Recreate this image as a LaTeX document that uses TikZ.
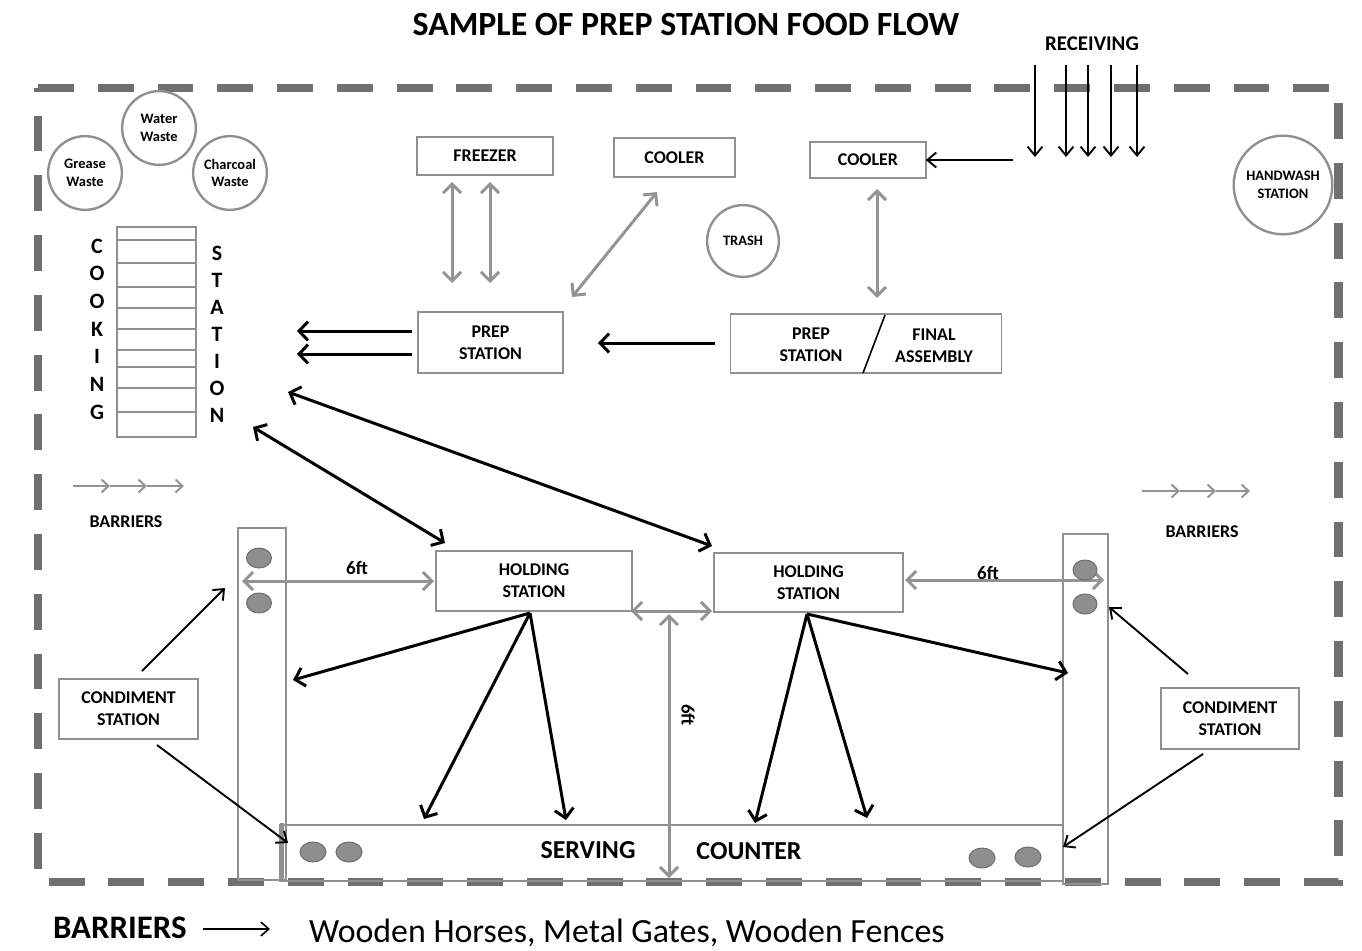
\documentclass[tikz,border=0pt]{standalone}
\usepackage{fontspec}
\setmainfont{Carlito}
\usetikzlibrary{arrows.meta}
\definecolor{boxgray}{HTML}{909090}
\definecolor{arrgray}{HTML}{939393}
\definecolor{bordergray}{HTML}{707070}
\definecolor{ovalgray}{HTML}{8E8E8E}
\definecolor{ovaledge}{HTML}{6E6E6E}
\begin{document}
\begin{tikzpicture}[x=1bp,y=-1bp,
  every node/.style={inner sep=0pt, outer sep=0pt},
  lbl/.style={font=\bfseries\fontsize{18}{22}\selectfont, align=center},
  box/.style={draw=boxgray, line width=1.9pt, fill=white, lbl},
  wcirc/.style={circle, draw=boxgray, line width=2.4pt, minimum size=74pt, font=\bfseries\fontsize{14.5}{18}\selectfont, align=center},
  garr/.style={draw=arrgray, line width=3pt, {Straight Barb[length=9pt,width=18pt]}-{Straight Barb[length=9pt,width=18pt]}},
  barr/.style={draw=black, line width=3pt, -{Straight Barb[length=9pt,width=19pt]}},
  bdarr/.style={draw=black, line width=3pt, {Straight Barb[length=9pt,width=19pt]}-{Straight Barb[length=9pt,width=19pt]}},
  tarr/.style={draw=black, line width=1.9pt, -{Straight Barb[length=9pt,width=15pt]}},
  chev/.style={draw=arrgray, line width=2pt, -{Straight Barb[length=7pt,width=13pt]}},
  wall/.style={draw=boxgray, line width=2.2pt},
  oval/.style={fill=ovalgray, draw=ovaledge, line width=1pt},
  cookl/.style={font=\bfseries\fontsize{22}{22}\selectfont}
]
\useasboundingbox (0,0) rectangle (1362,950);

% title
\node[font=\bfseries\fontsize{34}{36}\selectfont] (title) at (686,25) {SAMPLE OF PREP STATION FOOD FLOW};

% dashed border
\draw[bordergray, line width=9pt, dash pattern=on 36pt off 24pt] (38,88) -- (1338,88) -- (1338,882) -- (38,882) -- cycle;

% waste circles
\node[wcirc] (water) at (159,128) {Water\\Waste};
\node[wcirc] (grease) at (85,173) {Grease\\Waste};
\node[wcirc] (charcoal) at (230,173) {Charcoal\\Waste};

% cooking station
\draw[wall] (117,227) rectangle (196,437);
\foreach \yy in {240,263,287,308,329,350,367,388,412}
  \draw[boxgray, line width=1.2pt] (117,\yy) -- (196,\yy);
\foreach \ch [count=\i from 0] in {C,O,O,K,I,N,G}
  \node[cookl] (cl\i) at (97,246+27.7*\i) {\ch};
\foreach \ch [count=\i from 0] in {S,T,A,T,I,O,N}
  \node[cookl] (cr\i) at (217,253+27*\i) {\ch};

% top boxes
\node[box, minimum width=136pt, minimum height=38pt] (freezer) at (485,156) {FREEZER};
\node[box, minimum width=121pt, minimum height=39pt] (cooler1) at (674.5,157.5) {COOLER};
\node[box, minimum width=116pt, minimum height=36pt] (cooler2) at (868,160) {COOLER};
\node[wcirc, minimum size=72pt] (trash) at (743,241) {TRASH};
\node[wcirc, minimum size=99pt] (hand) at (1283,185) {HANDWASH\\STATION};

% prep stations
\node[box, minimum width=145pt, minimum height=61pt] (prepl) at (490.5,342.5) {PREP\\STATION};
\node[box, minimum width=272pt, minimum height=60pt] (pf) at (866,343.5) {};
\coordinate (slA) at (885,315);
\coordinate (slB) at (863,373);
\draw[black, line width=1.6pt] (slA) -- (slB);
\node[lbl] (pftxt1) at (811,345) {PREP\\STATION};
\node[lbl] (pftxt2) at (934,346) {FINAL\\ASSEMBLY};

% receiving
\node[font=\bfseries\fontsize{21}{22}\selectfont] (recv) at (1092,44) {RECEIVING};
\foreach \xx [count=\i] in {1035,1066,1088,1111,1137}{
  \coordinate (rt\i) at (\xx,65);
  \coordinate (rb\i) at (\xx,157);
  \draw[tarr] (rt\i) -- (rb\i);
}
\coordinate (rc) at (1013,160);
\draw[tarr] (rc) -- (cooler2.east);

% gray arrows top
\coordinate (f1a) at (452,182); \coordinate (f1b) at (452,283);
\coordinate (f2a) at (490,182); \coordinate (f2b) at (490,283);
\draw[garr] (f1a) -- (f1b);
\draw[garr] (f2a) -- (f2b);
\coordinate (c1a) at (657,192); \coordinate (c1b) at (572,297);
\draw[garr] (c1a) -- (c1b);
\coordinate (c2a) at (877,189); \coordinate (c2b) at (877,298);
\draw[garr] (c2a) -- (c2b);

% black arrows prep
\coordinate (p1a) at (412,331); \coordinate (p1b) at (297,331);
\coordinate (p2a) at (412,354); \coordinate (p2b) at (297,354);
\draw[barr] (p1a) -- (p1b);
\draw[barr] (p2a) -- (p2b);
\coordinate (pfa) at (715,343); \coordinate (pfb) at (598,343);
\draw[barr] (pfa) -- (pfb);

% holding stations
\node[box, minimum width=196pt, minimum height=60pt] (holdl) at (534,581) {HOLDING\\STATION};
\node[box, minimum width=189pt, minimum height=59pt] (holdr) at (808.5,582.5) {HOLDING\\STATION};

% cooking to holding
\coordinate (ck1) at (288,392); \coordinate (hr1) at (712,546);
\coordinate (ck2) at (253,427); \coordinate (hl1) at (445,543);
\draw[bdarr] (ck1) -- (hr1);
\draw[bdarr] (ck2) -- (hl1);

% barriers legend arrows
\coordinate (bl0) at (73,486); \coordinate (bl1) at (110,486);
\coordinate (bl2) at (147,486); \coordinate (bl3) at (184,486);
\draw[chev] (bl0) -- (bl1);
\draw[chev] (bl1) -- (bl2);
\draw[chev] (bl2) -- (bl3);
\node[font=\bfseries\fontsize{18}{20}\selectfont] (barl) at (126,522) {BARRIERS};
\coordinate (br0) at (1142,491); \coordinate (br1) at (1180,491);
\coordinate (br2) at (1216,491); \coordinate (br3) at (1250,491);
\draw[chev] (br0) -- (br1);
\draw[chev] (br1) -- (br2);
\draw[chev] (br2) -- (br3);
\node[font=\bfseries\fontsize{18}{20}\selectfont] (barr) at (1202,532) {BARRIERS};

% barrier rectangles and counter
\draw[wall] (238,528) rectangle (286,880);
\draw[wall] (1063,534) rectangle (1108,884);
\draw[wall] (280,825) rectangle (1063,881);
\draw[boxgray, line width=4pt] (282,823) -- (282,880);
\node[font=\bfseries\fontsize{26}{28}\selectfont] (serv) at (588,850) {SERVING};
\node[font=\bfseries\fontsize{26}{28}\selectfont] (count) at (749,851) {COUNTER};

% 6ft dimension arrows
\coordinate (d1a) at (242,581); \coordinate (d1b) at (434,581);
\draw[garr] (d1a) -- (d1b);
\node[font=\bfseries\fontsize{19}{20}\selectfont] (six1) at (357,568) {6ft};
\coordinate (d2a) at (905,580); \coordinate (d2b) at (1104,580);
\draw[garr] (d2a) -- (d2b);
\node[font=\bfseries\fontsize{19}{20}\selectfont] (six2) at (988,573) {6ft};
\coordinate (d3a) at (631,611); \coordinate (d3b) at (712,611);
\draw[garr] (d3a) -- (d3b);
\coordinate (d4a) at (669,614); \coordinate (d4b) at (669,878);
\draw[garr] (d4a) -- (d4b);
\node[font=\bfseries\fontsize{19}{20}\selectfont, rotate=-90] (six3) at (688,715) {6ft};

% ovals
\draw[oval] (259,558) ellipse [x radius=12.5, y radius=10];
\draw[oval] (259,603) ellipse [x radius=12.5, y radius=10];
\draw[oval] (1085,570) ellipse [x radius=12, y radius=10];
\draw[oval] (1085,604) ellipse [x radius=12, y radius=10];
\draw[oval] (313,852) ellipse [x radius=13, y radius=10];
\draw[oval] (349,852) ellipse [x radius=13, y radius=10];
\draw[oval] (982,858) ellipse [x radius=13, y radius=10];
\draw[oval] (1028,857) ellipse [x radius=13, y radius=10];

% holding to serving arrows
\coordinate (hlo) at (530,613);
\coordinate (hla) at (293,680); \coordinate (hlb) at (424,819); \coordinate (hlc) at (566,820);
\draw[barr] (hlo) -- (hla);
\draw[barr] (hlo) -- (hlb);
\draw[barr] (hlo) -- (hlc);
\coordinate (hro) at (807,614);
\coordinate (hra) at (1068,673); \coordinate (hrb) at (755,823); \coordinate (hrc) at (867,818);
\draw[barr] (hro) -- (hra);
\draw[barr] (hro) -- (hrb);
\draw[barr] (hro) -- (hrc);

% condiment stations
\node[box, minimum width=139pt, minimum height=61pt] (condl) at (128.5,709) {CONDIMENT\\STATION};
\node[box, minimum width=138pt, minimum height=61pt] (condr) at (1230,718.5) {CONDIMENT\\STATION};
\coordinate (cl1) at (142,671); \coordinate (cl1e) at (225,588);
\coordinate (cl2) at (157,745); \coordinate (cl2e) at (288,843);
\draw[tarr] (cl1) -- (cl1e);
\draw[tarr] (cl2) -- (cl2e);
\coordinate (cr1) at (1188,674); \coordinate (cr1e) at (1109,607);
\coordinate (cr2) at (1203,754); \coordinate (cr2e) at (1063,847);
\draw[tarr] (cr1) -- (cr1e);
\draw[tarr] (cr2) -- (cr2e);

% bottom legend
\node[font=\bfseries\fontsize{33}{34}\selectfont, anchor=west] (legb) at (53,928) {BARRIERS};
\coordinate (la) at (203,929); \coordinate (lb) at (270,929);
\draw[black, line width=1.6pt, -{Straight Barb[length=8pt,width=14pt]}] (la) -- (lb);
\node[font=\fontsize{34}{36}\selectfont, anchor=west] (legt) at (309,933) {Wooden Horses, Metal Gates, Wooden Fences};
\end{tikzpicture}
\end{document}
